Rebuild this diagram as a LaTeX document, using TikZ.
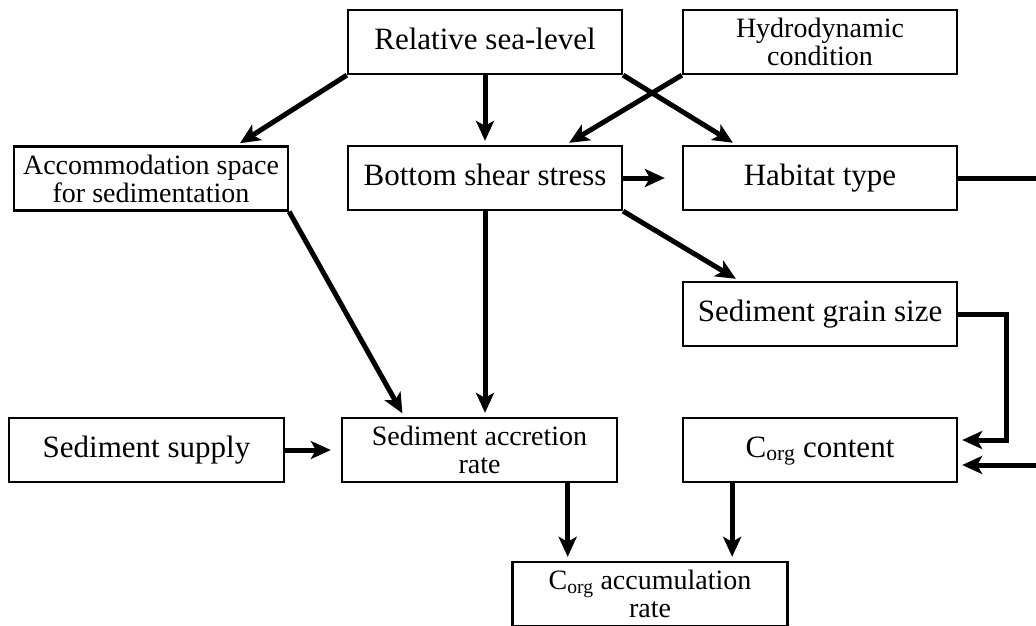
\documentclass[tikz,border=0pt]{standalone}
\usepackage{fontspec}
\setmainfont{Liberation Serif}
\usetikzlibrary{arrows.meta,calc}
\begin{document}
\begin{tikzpicture}[x=1pt,y=-1pt,
  box/.style={draw, line width=2.3pt, minimum width=274pt, minimum height=64pt,
    inner sep=0pt, align=center},
  one/.style={box, font=\fontsize{31}{31}\selectfont, text height=21.7pt, text depth=7.7pt},
  two/.style={box, font=\fontsize{28}{28}\selectfont},
  flow/.style={line width=5pt, -{Stealth[length=20pt,width=18pt,inset=5pt]}, shorten >=4pt}]
\useasboundingbox (0,0) rectangle (1036,625);
\clip (0,0) rectangle (1036,625);

% boxes
\node[one] (rsl) at (485,42) {Relative sea-level};
\node[two] (hyd) at (820,42) {Hydrodynamic\\condition};
\node[two] (acc) at (151,178.5) {Accommodation space\\for sedimentation};
\node[one] (bss) at (485,178) {Bottom shear stress};
\node[one] (hab) at (820,178) {Habitat type};
\node[one] (sgs) at (820,314) {Sediment grain size};
\node[one, minimum width=275pt] (sup) at (146.5,450) {Sediment supply};
\node[two, minimum width=275pt] (sar) at (479.5,450) {Sediment accretion\\rate};
\node[one] (corg) at (820,450) {C\textsubscript{org} content};
\node[two, minimum width=275pt] (car) at (650,594) {C\textsubscript{org} accumulation\\rate};

% influences
\draw[flow] (rsl.south west) -- ($(acc.north west)!0.81!(acc.north east)$);
\draw[flow] (rsl.south) -- (bss.north);
\draw[flow] (rsl.south east) -- ($(hab.north west)!0.197!(hab.north east)$);
\draw[flow] (hyd.south west) -- ($(bss.north west)!0.792!(bss.north east)$);
\draw[flow, shorten >=17pt] (bss.east) -- (hab.west);
\draw[flow] (bss.south east) -- ($(sgs.north west)!0.208!(sgs.north east)$);
\draw[flow] (bss.south) -- (bss.south |- sar.north);
\draw[flow] (acc.south east) -- ($(sar.north west)!0.229!(sar.north east)$);
\draw[flow, shorten >=10pt] (sup.east) -- (sar.west);
\coordinate (sarout) at ($(sar.south west)!0.818!(sar.south east)$);
\draw[flow] (sarout) -- (sarout |- car.north);
\coordinate (corgout) at ($(corg.south west)!0.182!(corg.south east)$);
\draw[flow] (corgout) -- (corgout |- car.north);
\draw[flow] (sgs.east) -- ++(48,0) |- ($(corg.east)+(0,-10)$);
\draw[flow] (hab.east) -- ++(100,0) |- ($(corg.east)+(0,15)$);
\end{tikzpicture}
\end{document}
